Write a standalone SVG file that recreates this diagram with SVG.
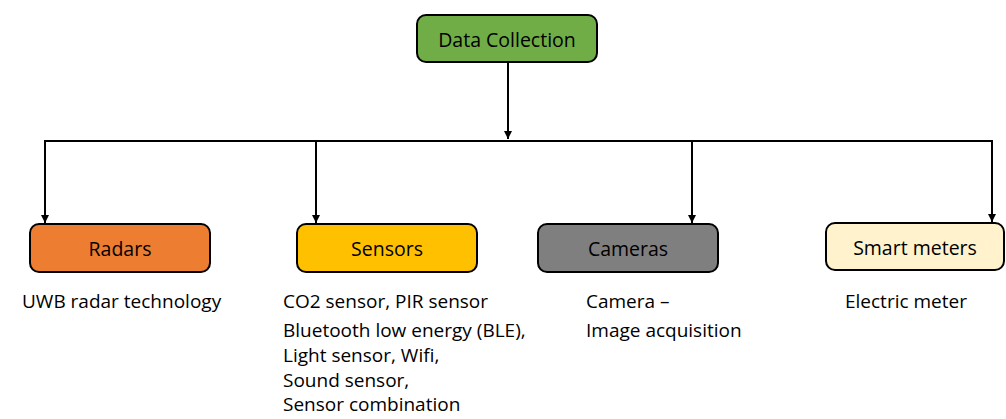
<svg xmlns="http://www.w3.org/2000/svg" width="1006" height="419" viewBox="0 0 1006 419">
<defs>
<marker id="arr" markerWidth="10" markerHeight="10" refX="8" refY="5" orient="auto" markerUnits="userSpaceOnUse">
<path d="M0,1 L8,5 L0,9 Z" fill="#000"/>
</marker>
<style>
.box{stroke:#000;stroke-width:2}
.lbl{font-family:"Open Sans","Liberation Sans",sans-serif;font-size:19.5px;fill:#000;text-anchor:middle;dominant-baseline:central}
.desc{font-family:"Open Sans","Liberation Sans",sans-serif;font-size:19px;fill:#000}
.conn{stroke:#000;stroke-width:2;fill:none}
</style>
</defs>
<rect width="1006" height="419" fill="#fff"/>
<g id="connectors">
<path class="conn" d="M508,62 L508,139" marker-end="url(#arr)"/>
<path class="conn" d="M44,141 L993,141"/>
<path class="conn" d="M45,141 L45,223" marker-end="url(#arr)"/>
<path class="conn" d="M316,141 L316,223" marker-end="url(#arr)"/>
<path class="conn" d="M692,141 L692,223" marker-end="url(#arr)"/>
<path class="conn" d="M992,141 L992,222" marker-end="url(#arr)"/>
</g>
<g id="data-collection">
<rect class="box" x="417" y="15" width="180" height="47" rx="9" fill="#70AD47"/>
<text class="lbl" x="507" y="39">Data Collection</text>
</g>
<g id="radars">
<rect class="box" x="30" y="224" width="180" height="48" rx="9" fill="#ED7D31"/>
<text class="lbl" x="120" y="248">Radars</text>
<text class="desc" x="22" y="308">UWB radar technology</text>
</g>
<g id="sensors">
<rect class="box" x="297" y="224" width="180" height="48" rx="9" fill="#FFC000"/>
<text class="lbl" x="387" y="248">Sensors</text>
<text class="desc" x="283" y="308">CO2 sensor, PIR sensor</text>
<text class="desc" x="283" y="337">Bluetooth low energy (BLE),</text>
<text class="desc" x="283" y="362">Light sensor, Wifi,</text>
<text class="desc" x="283" y="387">Sound sensor,</text>
<text class="desc" x="283" y="411">Sensor combination</text>
</g>
<g id="cameras">
<rect class="box" x="538" y="224" width="180" height="48" rx="9" fill="#7F7F7F"/>
<text class="lbl" x="628" y="248">Cameras</text>
<text class="desc" x="586" y="308">Camera –</text>
<text class="desc" x="586" y="337">Image acquisition</text>
</g>
<g id="smart-meters">
<rect class="box" x="826" y="223" width="178" height="47" rx="9" fill="#FFF2CC"/>
<text class="lbl" x="915" y="247">Smart meters</text>
<text class="desc" x="845" y="308">Electric meter</text>
</g>
</svg>
